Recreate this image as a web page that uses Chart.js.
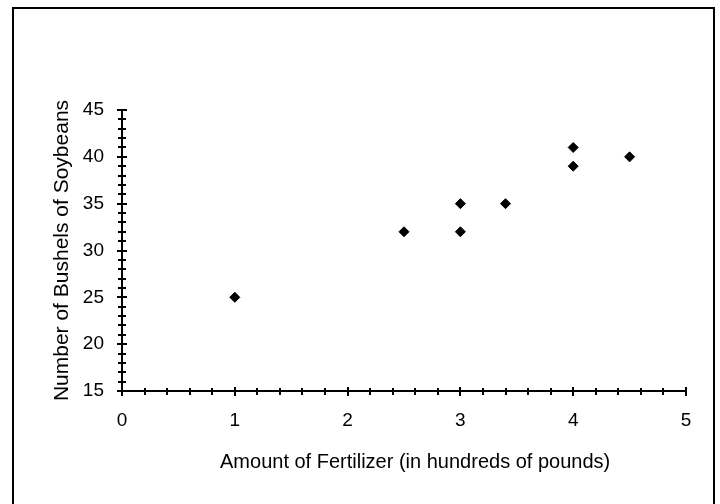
<!DOCTYPE html>
<html>
<head>
<meta charset="utf-8">
<script src="https://cdn.jsdelivr.net/npm/chart.js@4.4.1/dist/chart.umd.min.js"></script>
<style>
  html, body { margin: 0; padding: 0; background: #fff; }
  #wrap { width: 720px; height: 504px; position: relative; }
</style>
</head>
<body>
<div id="wrap"><canvas id="c" width="720" height="504"></canvas></div>
<script>
// Data
const fertilizer = [1, 2.5, 3, 3, 3.4, 4, 4, 4.5];
const bushels    = [25, 32, 35, 32, 35, 41, 39, 40];
const xTitle = 'Amount of Fertilizer (in hundreds of pounds)';
const yTitle = 'Number of Bushels of Soybeans';
const xRange = { min: 0, max: 5, major: 1, minor: 0.2 };
const yRange = { min: 15, max: 45, major: 5, minor: 1 };

const points = fertilizer.map((x, i) => ({ x: x, y: bushels[i] }));
const FONT = 'Arial, "Liberation Sans", Helvetica, sans-serif';

const framePlugin = {
  id: 'frame',
  beforeDraw(chart) {
    const ctx = chart.ctx;
    ctx.save();
    ctx.fillStyle = '#fff';
    ctx.fillRect(0, 0, chart.width, chart.height);
    ctx.restore();
  },
  afterDraw(chart) {
    const ctx = chart.ctx;
    ctx.save();
    ctx.strokeStyle = '#000';
    ctx.lineWidth = 2;
    ctx.beginPath();
    ctx.moveTo(13, chart.height + 5);
    ctx.lineTo(13, 8);
    ctx.lineTo(714, 8);
    ctx.lineTo(714, chart.height + 5);
    ctx.stroke();
    ctx.restore();
  }
};

const tickPlugin = {
  id: 'crossTicks',
  afterDatasetsDraw(chart) {
    const ctx = chart.ctx;
    const xs = chart.scales.x, ys = chart.scales.y;
    const axisY = ys.getPixelForValue(yRange.min);
    const axisX = xs.getPixelForValue(xRange.min);
    ctx.save();
    ctx.strokeStyle = '#000';
    ctx.lineWidth = 2;
    const nx = Math.round((xRange.max - xRange.min) / xRange.minor);
    for (let i = 0; i <= nx; i++) {
      const v = xRange.min + i * xRange.minor;
      const major = Math.abs(v / xRange.major - Math.round(v / xRange.major)) < 1e-6;
      const px = Math.round(xs.getPixelForValue(v));
      const up = major ? 4 : 3, down = major ? 5 : 4;
      ctx.beginPath();
      ctx.moveTo(px, axisY - up);
      ctx.lineTo(px, axisY + down);
      ctx.stroke();
    }
    const ny = Math.round((yRange.max - yRange.min) / yRange.minor);
    for (let i = 0; i <= ny; i++) {
      const v = yRange.min + i * yRange.minor;
      const major = v % yRange.major === 0;
      const py = Math.round(ys.getPixelForValue(v));
      const half = major ? 5 : 4;
      ctx.beginPath();
      ctx.moveTo(axisX - half, py);
      ctx.lineTo(axisX + half, py);
      ctx.stroke();
    }
    ctx.restore();
  }
};

new Chart(document.getElementById('c'), {
  type: 'scatter',
  data: {
    datasets: [{
      data: points,
      pointStyle: 'rectRot',
      pointRadius: 5,
      pointHoverRadius: 5,
      backgroundColor: '#000',
      borderColor: '#000',
      borderWidth: 1
    }]
  },
  options: {
    responsive: false,
    animation: false,
    devicePixelRatio: 1,
    layout: { padding: { top: 110, right: 34, bottom: 0, left: 0 } },
    plugins: { legend: { display: false }, tooltip: { enabled: false } },
    scales: {
      x: {
        type: 'linear',
        min: xRange.min, max: xRange.max,
        afterFit(scale) { scale.height = 113; },
        grid: { display: false, drawTicks: false },
        border: { display: true, color: '#000', width: 2 },
        ticks: { stepSize: xRange.major, padding: 18, color: '#000', font: { family: FONT, size: 19 } },
        title: { display: true, text: '\u00a0\u00a0\u00a0\u00a0' + xTitle, color: '#000', font: { family: FONT, size: 20 }, padding: { top: 0, bottom: 30 } }
      },
      y: {
        type: 'linear',
        min: yRange.min, max: yRange.max,
        afterFit(scale) { scale.width = 122; },
        grid: { display: false, drawTicks: false },
        border: { display: true, color: '#000', width: 2 },
        ticks: { stepSize: yRange.major, padding: 18, color: '#000', font: { family: FONT, size: 19 } },
        title: { display: true, text: yTitle, color: '#000', font: { family: FONT, size: 21 }, padding: { top: 50, bottom: 0 } }
      }
    }
  },
  plugins: [framePlugin, tickPlugin]
});
</script>
</body>
</html>
